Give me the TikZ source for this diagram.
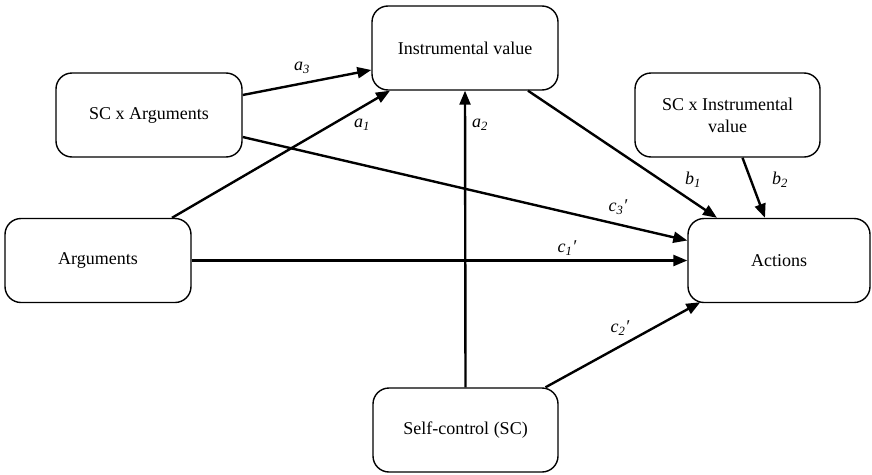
\documentclass[tikz,border=0pt]{standalone}
\usepackage{fontspec}
\setmainfont{Liberation Serif}
\usetikzlibrary{arrows.meta}
\begin{document}
\begin{tikzpicture}[x=1pt,y=-1pt,
  box/.style={draw, line width=1.4pt, rounded corners=16pt, minimum width=186pt,
    minimum height=84pt, inner sep=0pt, align=center,
    font=\fontsize{18}{22}\selectfont},
  arr/.style={line width=2.4pt, -{Triangle[length=14pt,width=11pt]}},
  lab/.style={font=\fontsize{18}{22}\selectfont\itshape, inner sep=0pt}]
\useasboundingbox (0,0) rectangle (872,474);

\node[box] (IV)   at (465,48)    {Instrumental value};
\node[box] (SCA)  at (149,115)   {SC x Arguments};
\node[box, minimum width=185pt] (SCIV) at (727.5,115) {SC x Instrumental\\value};
\node[box] (Arg)  at (98,260.5)  {Arguments};
\node[box, minimum width=182pt] (Act)  at (779,260.5) {Actions};
\node[box, minimum width=185pt] (SC)   at (465.5,430) {Self-control (SC)};

\draw[arr] ([yshift=20pt]SCA.east) -- ([yshift=-22pt]IV.west);
\draw[arr] ([xshift=74pt]Arg.north) -- ([xshift=-75pt]IV.south);
\draw[arr] (SC.north) -- (IV.south);
\draw[arr] ([xshift=63pt]IV.south) -- ([xshift=-62pt]Act.north);
\draw[arr] ([xshift=15pt]SCIV.south) -- ([xshift=-14pt]Act.north);
\draw[arr] ([yshift=-22pt]SCA.east) -- ([yshift=20pt]Act.west);
\draw[arr] (Arg.east) -- (Act.west);
\draw[arr] ([xshift=80pt]SC.north) -- ([xshift=13pt,yshift=1pt]Act.south west);

\node[lab] (la3) at (302,68)  {a\textsubscript{3}};
\node[lab] (la1) at (362,125) {a\textsubscript{1}};
\node[lab] (la2) at (480,125) {a\textsubscript{2}};
\node[lab] (lb1) at (693,180) {b\textsubscript{1}};
\node[lab] (lb2) at (780,180) {b\textsubscript{2}};
\node[lab] (lc3) at (618,207) {c\textsubscript{3}′};
\node[lab] (lc1) at (567,248) {c\textsubscript{1}′};
\node[lab] (lc2) at (620,328) {c\textsubscript{2}′};
\end{tikzpicture}
\end{document}
